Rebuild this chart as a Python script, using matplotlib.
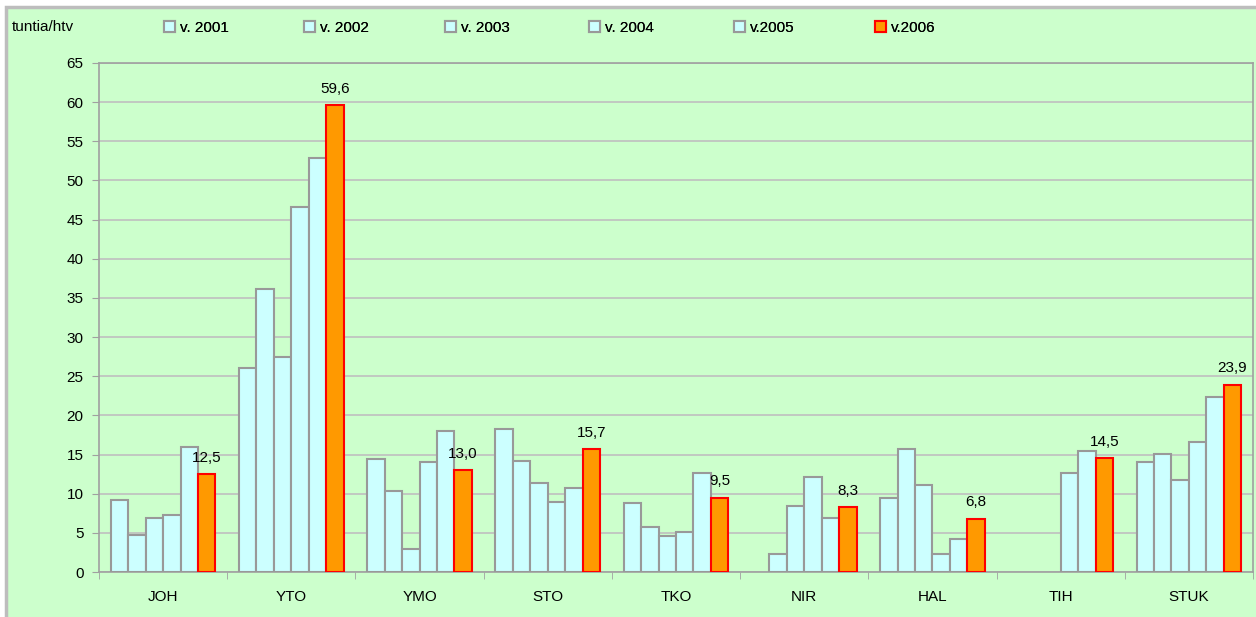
import numpy as np
import matplotlib
matplotlib.use("Agg")
import matplotlib.pyplot as plt
from matplotlib.patches import Rectangle

plt.rcParams["font.family"] = ["Liberation Sans", "DejaVu Sans"]

categories = ["JOH", "YTO", "YMO", "STO", "TKO", "NIR", "HAL", "TIH", "STUK"]
years = ["v. 2001", "v. 2002", "v. 2003", "v. 2004", "v.2005", "v.2006"]
nan = np.nan
v2001 = [9.2, 26.0, 14.4, 18.3, 8.8, nan, 9.4, nan, 14.0]
v2002 = [4.7, 36.1, 10.4, 14.2, 5.8, 2.3, 15.7, nan, 15.1]
v2003 = [6.9, 27.5, 2.9, 11.4, 4.6, 8.4, 11.1, nan, 11.7]
v2004 = [7.3, 46.6, 14.0, 9.0, 5.1, 12.1, 2.3, 12.6, 16.6]
v2005 = [15.9, 52.9, 18.0, 10.7, 12.6, 6.9, 4.2, 15.5, 22.3]
v2006 = [12.5, 59.6, 13.0, 15.7, 9.5, 8.3, 6.8, 14.5, 23.9]
series = [v2001, v2002, v2003, v2004, v2005, v2006]

W, H = 1256, 617
fig = plt.figure(figsize=(W / 100, H / 100), dpi=100)
fig.patch.set_facecolor("white")
bg = Rectangle((6 / W, -0.01), 1.0, 1 - 7 / H + 0.01, transform=fig.transFigure,
               facecolor="#CCFFCC", edgecolor="#BDBDBD", linewidth=2.5, zorder=-10)
fig.add_artist(bg)

ax = fig.add_axes([99 / W, 1 - 572 / H, (1253 - 99) / W, (572 - 63) / H])
ax.set_facecolor("#CCFFCC")

x = np.arange(len(categories))
bw = 0.136
handles = []
for i, (lab, vals) in enumerate(zip(years, series)):
    off = (i - 2.5) * bw
    if i == 5:
        fc, ec = "#FF9900", "#FF0000"
    else:
        fc, ec = "#CCFFFF", "#999999"
    bars = ax.bar(x + off, vals, bw, color=fc, edgecolor=ec, linewidth=1.5,
                  label=lab, zorder=3)
    handles.append(bars)
    if i == 5:
        for xx, v in zip(x + off, vals):
            ax.text(xx, v + 1.2, f"{v:.1f}".replace(".", ","), ha="center",
                    va="bottom", fontsize=11, color="black", zorder=4)

ax.set_xlim(-0.5, len(categories) - 0.5)
ax.set_ylim(0, 65)
ax.set_yticks(np.arange(0, 66, 5))
ax.tick_params(axis="y", labelsize=11, length=5, color="#A0A0A0", pad=6)
ax.set_xticks(x)
ax.set_xticklabels(categories, fontsize=11)
ax.set_xticks(np.arange(-0.5, len(categories)), minor=True)
ax.tick_params(axis="x", which="major", length=0, pad=13)
ax.tick_params(axis="x", which="minor", length=5, color="#A0A0A0")
ax.grid(axis="y", color="#BFBFBF", linewidth=1.2, zorder=0)
for s in ax.spines.values():
    s.set_color("#A0A0A0")
    s.set_linewidth(1.2)

fig.text(12 / W, 1 - 27 / H, "tuntia/htv", fontsize=11, va="center", ha="left")
leg_x = [158, 298, 439, 583, 728, 869]
for h, lab, lx in zip(handles, years, leg_x):
    lg = fig.legend([h], [lab], loc="center left",
                    bbox_to_anchor=(lx / W, 1 - 28 / H), frameon=False,
                    fontsize=11, handlelength=0.7, handleheight=0.7,
                    handletextpad=0.35, borderaxespad=0)
    fig.add_artist(lg)

fig.savefig("out.png", dpi=100)
